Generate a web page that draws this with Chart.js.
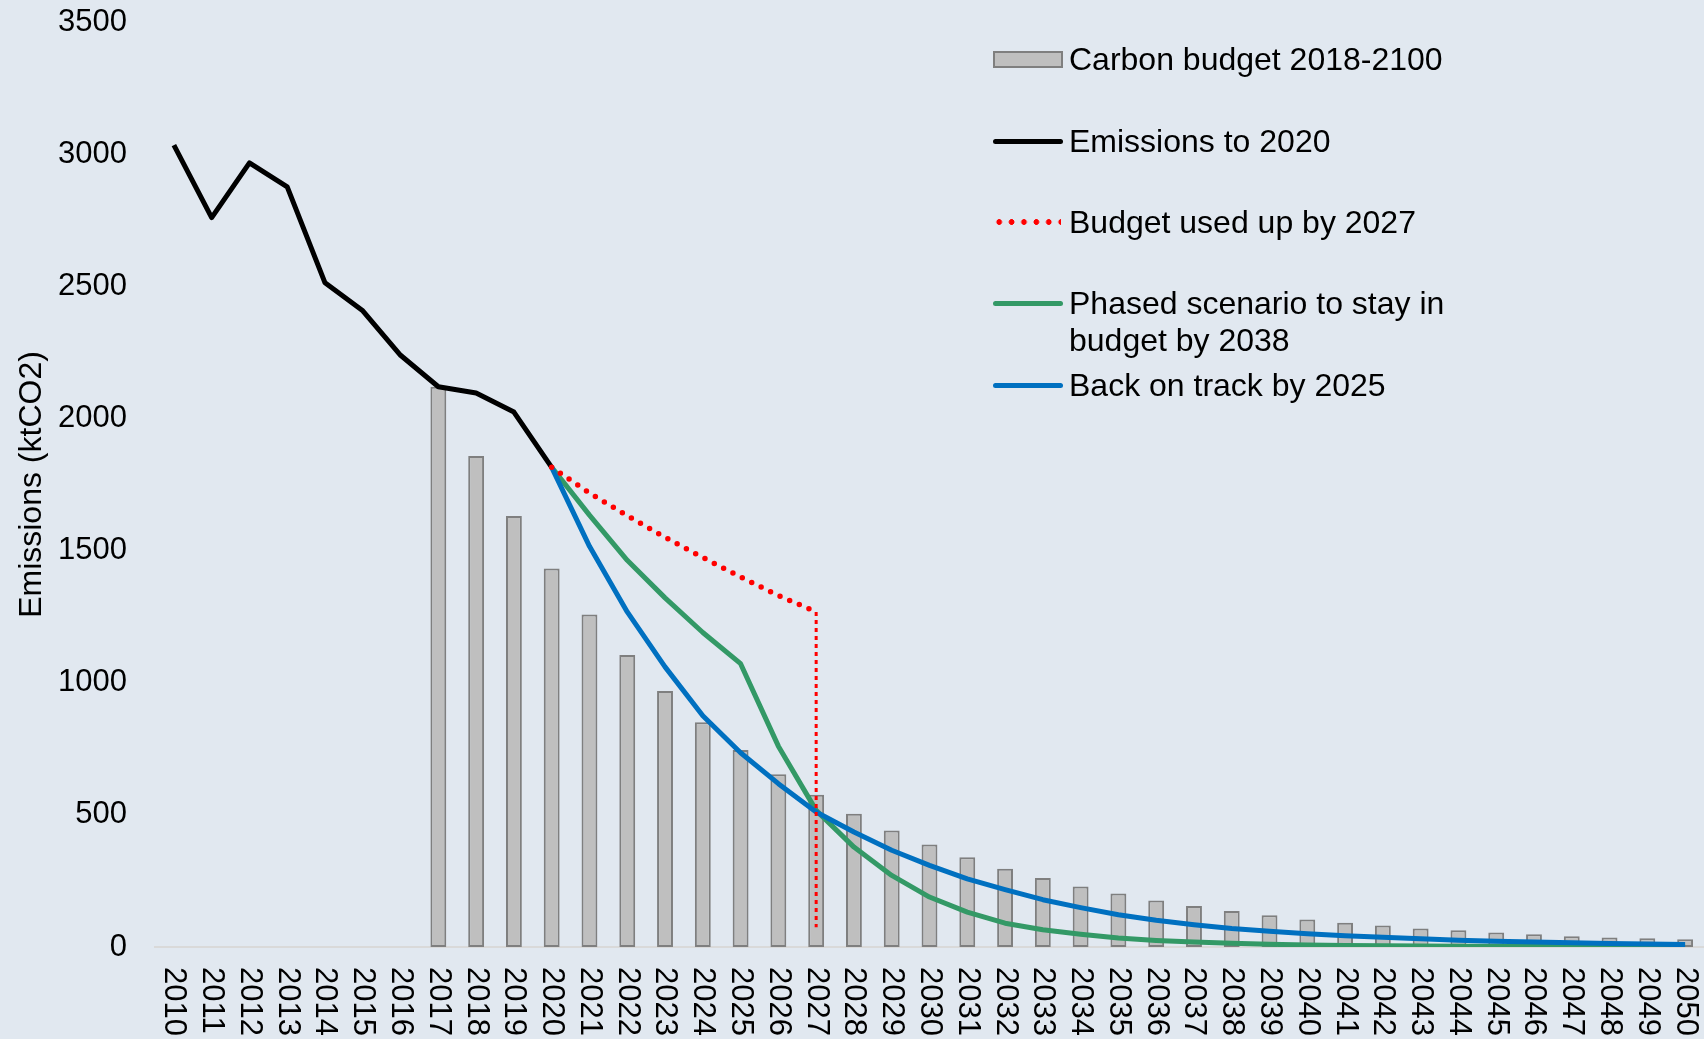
<!DOCTYPE html>
<html>
<head>
<meta charset="utf-8">
<title>Emissions and carbon budget</title>
<script src="https://cdn.jsdelivr.net/npm/chart.js@4.4.1/dist/chart.umd.min.js"></script>
<style>
  html, body { margin: 0; padding: 0; background: #e1e8f0; }
  #wrap { position: relative; width: 1704px; height: 1039px; background: #e1e8f0; overflow: hidden; }
  #legend { position: absolute; left: 0; top: 0; font-family: "Liberation Sans", Arial, sans-serif; font-size: 32px; color: #000; }
  .legend-item { position: absolute; left: 993px; width: 520px; line-height: 37px; }
  .legend-swatch { position: absolute; left: 0; width: 70px; box-sizing: border-box; }
  .legend-text { position: absolute; left: 76px; top: 0; width: 390px; }
</style>
</head>
<body>
<div id="wrap">
  <canvas id="myChart" width="1704" height="1039"></canvas>
  <div id="legend"></div>
</div>
<script>
const years = [
  "2010", "2011", "2012", "2013", "2014", "2015", "2016", "2017", "2018", "2019",
  "2020", "2021", "2022", "2023", "2024", "2025", "2026", "2027", "2028", "2029",
  "2030", "2031", "2032", "2033", "2034", "2035", "2036", "2037", "2038", "2039",
  "2040", "2041", "2042", "2043", "2044", "2045", "2046", "2047", "2048", "2049",
  "2050",
];

// grey bars
const carbonBudget = [
  null, null, null, null, null, null, null, 2120, 1858, 1631,
  1432, 1258, 1105, 969, 850, 745, 654, 576, 504, 441,
  388, 340, 296, 261, 229, 202, 176, 155, 136, 120,
  104, 92, 81, 70, 63, 55, 48, 41, 36, 33,
  29,
];

const emissionsTo2020 = [
  3034, 2760, 2967, 2876, 2513, 2407, 2239, 2120, 2096, 2024,
  1815, null, null, null, null, null, null, null, null, null,
  null, null, null, null, null, null, null, null, null, null,
  null, null, null, null, null, null, null, null, null, null,
  null,
];

const budgetUsedUp = [
  null, null, null, null, null, null, null, null, null, null,
  1815, 1718, 1632, 1550, 1474, 1400, 1330, 1268, null, null,
  null, null, null, null, null, null, null, null, null, null,
  null, null, null, null, null, null, null, null, null, null,
  null,
];

// vertical drop of the red line in 2027
const dropYear = "2027";
const dropValues = [1268, 75];

const phasedScenario = [
  null, null, null, null, null, null, null, null, null, null,
  1815, 1634, 1463, 1321, 1190, 1072, 760, 517, 378, 271,
  189, 132, 90, 65, 48, 34, 25, 19, 14, 10,
  8, 6, 5, 4, 3, 3, 2, 2, 2, 1,
  1,
];

const backOnTrack = [
  null, null, null, null, null, null, null, null, null, null,
  1815, 1516, 1268, 1060, 875, 735, 618, 511, 435, 366,
  309, 258, 217, 179, 149, 122, 101, 84, 70, 60,
  50, 43, 37, 31, 26, 22, 19, 16, 13, 11,
  9,
];

const yMin = 0;
const yMax = 3500;
const yStep = 500;

const fontFamily = '"Liberation Sans", Arial, sans-serif';

const verticalYearLabels = {
  id: "verticalYearLabels",
  afterDraw(chart) {
    const ctx = chart.ctx;
    const xScale = chart.scales.x;
    ctx.save();
    ctx.font = "31px " + fontFamily;
    ctx.fillStyle = "#000";
    ctx.textAlign = "left";
    ctx.textBaseline = "middle";
    xScale.ticks.forEach((tick, i) => {
      const x = xScale.getPixelForTick(i);
      ctx.save();
      ctx.translate(x, xScale.top + 20);
      ctx.rotate(Math.PI / 2);
      ctx.fillText(xScale.getLabelForValue(tick.value), 0, 0);
      ctx.restore();
    });
    ctx.restore();
  },
};

const lineDefaults = {
  type: "line",
  pointRadius: 0,
  pointHoverRadius: 0,
  borderWidth: 5,
  tension: 0,
  spanGaps: false,
  borderJoinStyle: "round",
  fill: false,
};

const datasets = [
  {
    type: "bar",
    label: "Carbon budget 2018-2100",
    data: carbonBudget,
    backgroundColor: "#bfbfbf",
    borderColor: "#7f7f7f",
    borderWidth: 2,
    borderSkipped: false,
    barPercentage: 0.42,
    categoryPercentage: 1,
    order: 6,
  },
  {
    ...lineDefaults,
    label: "Emissions to 2020",
    data: emissionsTo2020,
    borderColor: "#000000",
    order: 5,
  },
  {
    ...lineDefaults,
    label: "Budget used up by 2027",
    data: budgetUsedUp,
    borderColor: "#ff0000",
    borderWidth: 5.5,
    borderDash: [0, 10.5],
    borderCapStyle: "round",
    order: 1,
  },
  {
    ...lineDefaults,
    label: "Phased scenario to stay in budget by 2038",
    data: phasedScenario,
    borderColor: "#339966",
    order: 3,
  },
  {
    ...lineDefaults,
    label: "Back on track by 2025",
    data: backOnTrack,
    borderColor: "#0070c0",
    order: 2,
  },
  {
    ...lineDefaults,
    label: "",
    data: dropValues.map((v) => ({ x: dropYear, y: v })),
    borderColor: "#ff0000",
    borderWidth: 3,
    borderDash: [4, 4],
    order: 1,
  },
];

const config = {
  type: "bar",
  data: { labels: years, datasets },
  options: {
    responsive: false,
    animation: false,
    layout: { padding: { top: 22, right: 0, left: 0, bottom: 0 } },
    plugins: {
      legend: { display: false },
      tooltip: { enabled: false },
    },
    scales: {
      x: {
        offset: true,
        grid: { display: false },
        border: { display: true, color: "#d9d9d9", width: 2 },
        ticks: { display: false, autoSkip: false },
        afterFit(scale) {
          scale.height = 92;
        },
      },
      y: {
        min: yMin,
        max: yMax,
        grid: { display: false, drawTicks: false },
        border: { display: false },
        ticks: {
          stepSize: yStep,
          padding: 28,
          color: "#000",
          font: { family: fontFamily, size: 31 },
          callback: (value) => String(value),
        },
        title: {
          display: true,
          text: "Emissions (ktCO2)",
          color: "#000",
          font: { family: fontFamily, size: 32 },
          padding: { top: 13, bottom: 0 },
        },
        afterFit(scale) {
          scale.width = 155;
          scale.paddingTop = 0;
          scale.paddingBottom = 0;
        },
      },
    },
  },
  plugins: [verticalYearLabels],
};

const myChart = document.getElementById("myChart");
window.chart = new Chart(myChart, config);

renderLegend(window.chart);

function renderLegend(chart) {
  const rowCenters = [59, 141, 222, 303, 385];
  let html = "";
  let row = 0;
  for (const ds of chart.data.datasets) {
    if (!ds.label) continue;
    const top = rowCenters[row] - 18.5;
    html += `<div class="legend-item" style="top:${top}px">${swatchFor(ds)}<div class="legend-text">${ds.label}</div></div>`;
    row++;
  }
  document.querySelector("#legend").innerHTML = html;
}

function swatchFor(ds) {
  if (ds.type === "bar") {
    return `<div class="legend-swatch" style="top:10px;height:17px;background:${ds.backgroundColor};border:2px solid ${ds.borderColor}"></div>`;
  }
  if (ds.borderDash && ds.borderDash[0] === 0) {
    return `<div class="legend-swatch" style="top:15.5px;height:6px;width:68px;background:radial-gradient(circle, ${ds.borderColor} 2.6px, transparent 3.1px);background-size:12.4px 6px;background-repeat:repeat-x"></div>`;
  }
  return `<div class="legend-swatch" style="top:16px;height:5px;background:${ds.borderColor};border-radius:3px"></div>`;
}
</script>
</body>
</html>
